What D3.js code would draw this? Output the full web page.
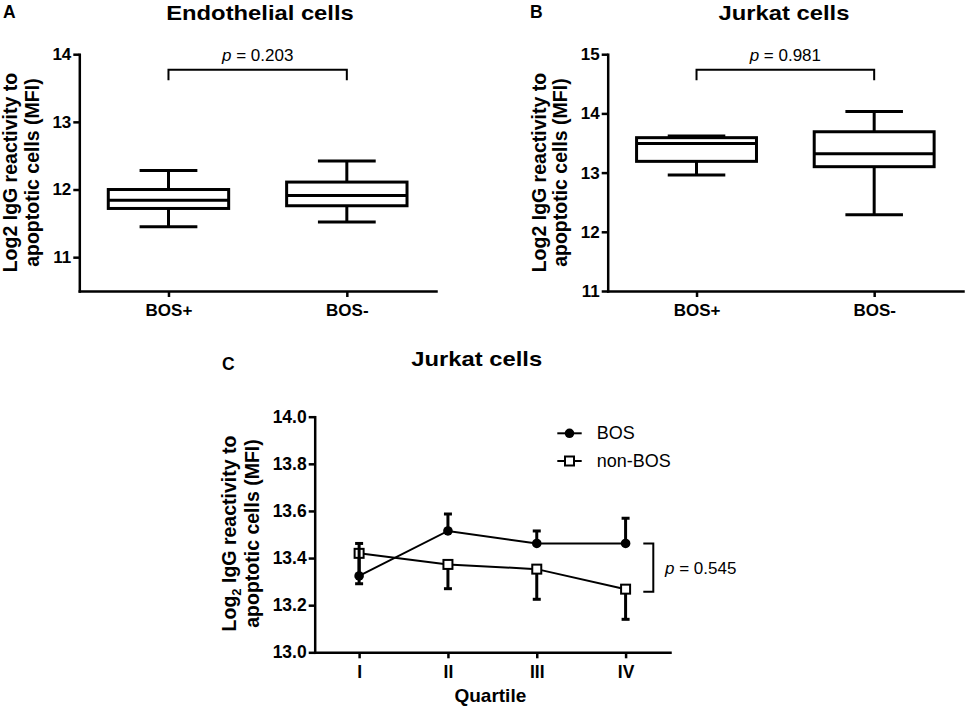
<!DOCTYPE html>
<html><head><meta charset="utf-8">
<script src="https://cdn.jsdelivr.net/npm/d3@7"></script>
<style>
body{margin:0;background:#fff}
svg{display:block}
text{font-family:"Liberation Sans",Arial,Helvetica,sans-serif;fill:#000}
</style>
</head><body>
<svg id="chart" width="965" height="708"></svg>
<script>
// ---------- DATA ----------
const groups = ["BOS+", "BOS-"];
// Panel A: Endothelial cells (box plot five-number summaries)
const endoMin = [11.45, 11.52];
const endoQ1  = [11.72, 11.76];
const endoMed = [11.84, 11.91];
const endoQ3  = [12.00, 12.11];
const endoMax = [12.28, 12.42];
const endoTicks = [11, 12, 13, 14];
const endoP = "0.203";
// Panel B: Jurkat cells
const jurMin = [12.96, 12.29];
const jurQ1  = [13.19, 13.10];
const jurMed = [13.49, 13.32];
const jurQ3  = [13.59, 13.69];
const jurMax = [13.62, 14.03];
const jurTicks = [11, 12, 13, 14, 15];
const jurP = "0.981";
// Panel C: Jurkat cells by quartile
const quartiles = ["I", "II", "III", "IV"];
const bosMean = [13.324, 13.515, 13.462, 13.462];
const bosErr  = [0.138, 0.072, 0.053, 0.107];      // drawn above
const nonBosMean = [13.420, 13.373, 13.353, 13.268];
const nonBosErr  = [0.129, 0.103, 0.128, 0.128];   // drawn below
const quartTicks = [13.0, 13.2, 13.4, 13.6, 13.8, 14.0];
const quartP = "0.545";
const seriesNames = ["BOS", "non-BOS"];

// ---------- HELPERS ----------
const FONT = '"Liberation Sans",Arial,Helvetica,sans-serif';
const svg = d3.select("#chart");

function styleAxis(g, fs) {
  g.attr("font-family", FONT);
  g.select(".domain").attr("stroke", "#000").attr("stroke-width", 2.5).attr("stroke-linecap", "square");
  g.selectAll(".tick line").attr("stroke", "#000").attr("stroke-width", 2.5);
  g.selectAll(".tick text").attr("font-size", fs).attr("font-weight", "bold").attr("fill", "#000");
}

function yLabel(x1, x2, yc, line1, line2) {
  const t1 = svg.append("text").attr("transform", `translate(${x1},${yc}) rotate(-90)`)
    .attr("text-anchor", "middle").attr("font-size", 19.5).attr("font-weight", "bold");
  line1(t1);
  svg.append("text").attr("transform", `translate(${x2},${yc}) rotate(-90)`)
    .attr("text-anchor", "middle").attr("font-size", 19.5).attr("font-weight", "bold")
    .text(line2);
}

function pText(x, y, val, anchor) {
  const t = svg.append("text").attr("x", x).attr("y", y).attr("text-anchor", anchor)
    .attr("font-size", 17);
  t.append("tspan").attr("font-style", "italic").text("p");
  t.append("tspan").text(" = " + val);
}

function title(cx, base, txt) {
  svg.append("text").attr("transform", `translate(${cx},${base}) scale(1.16,1)`)
    .attr("text-anchor", "middle").attr("font-size", 20.5).attr("font-weight", "bold").text(txt);
}

function boxPanel(cfg) {
  const x = d3.scalePoint().domain(groups).range([cfg.x0, cfg.x1]).padding(0.5);
  const y = d3.scaleLinear().domain(cfg.domain).range([cfg.yb, cfg.yt]);
  const step = x.step();
  const bw = step * 0.675, cw = bw * 0.48;

  svg.append("g").attr("transform", `translate(${cfg.x0},0)`)
    .call(d3.axisLeft(y).tickValues(cfg.ticks).tickSize(6).tickSizeOuter(0).tickPadding(2).tickFormat(d3.format("d")))
    .call(g => styleAxis(g, 17));
  svg.append("g").attr("transform", `translate(0,${cfg.yb})`)
    .call(d3.axisBottom(x).tickSize(6).tickSizeOuter(0).tickPadding(7))
    .call(g => styleAxis(g, 17));

  const g = svg.append("g").attr("fill", "none").attr("stroke", "#000").attr("stroke-width", 3);
  groups.forEach((k, i) => {
    const cx = x(k);
    g.append("line").attr("x1", cx).attr("x2", cx).attr("y1", y(cfg.max[i])).attr("y2", y(cfg.q3[i]));
    g.append("line").attr("x1", cx).attr("x2", cx).attr("y1", y(cfg.q1[i])).attr("y2", y(cfg.min[i]));
    g.append("line").attr("x1", cx - cw / 2).attr("x2", cx + cw / 2).attr("y1", y(cfg.max[i])).attr("y2", y(cfg.max[i]));
    g.append("line").attr("x1", cx - cw / 2).attr("x2", cx + cw / 2).attr("y1", y(cfg.min[i])).attr("y2", y(cfg.min[i]));
    g.append("rect").attr("x", cx - bw / 2).attr("width", bw)
      .attr("y", y(cfg.q3[i])).attr("height", y(cfg.q1[i]) - y(cfg.q3[i])).attr("fill", "#fff");
    g.append("line").attr("x1", cx - bw / 2).attr("x2", cx + bw / 2).attr("y1", y(cfg.med[i])).attr("y2", y(cfg.med[i]));
  });

  // significance bracket
  const xa = x(groups[0]), xb = x(groups[1]);
  const yTop = cfg.yb - (cfg.yb - cfg.yt) * 0.934, yDrop = yTop + 10.5;
  svg.append("path").attr("d", `M${xa},${yDrop}V${yTop}H${xb}V${yDrop}`)
    .attr("fill", "none").attr("stroke", "#000").attr("stroke-width", 2);
  pText((xa + xb) / 2, yTop - 8.5, cfg.p, "middle");

  // title & letter
  title(cfg.titleX, 19.5, cfg.title);
  svg.append("text").attr("x", cfg.letterX).attr("y", 17.5)
    .attr("font-size", 17.5).attr("font-weight", "bold").text(cfg.letter);

  yLabel(cfg.lab1, cfg.lab2, (cfg.yb + cfg.yt) / 2,
    t => t.text("Log2 IgG reactivity to"), "apoptotic cells (MFI)");
}

// ---------- PANEL A ----------
boxPanel({
  x0: 79.3, x1: 436, yb: 291, yt: 54.2, domain: [10.5, 14], ticks: endoTicks,
  min: endoMin, q1: endoQ1, med: endoMed, q3: endoQ3, max: endoMax, p: endoP,
  title: "Endothelial cells", titleX: 260, letter: "A", letterX: 3,
  lab1: 17, lab2: 38.5
});

// ---------- PANEL B ----------
boxPanel({
  x0: 607.7, x1: 963, yb: 291, yt: 54.2, domain: [11, 15], ticks: jurTicks,
  min: jurMin, q1: jurQ1, med: jurMed, q3: jurQ3, max: jurMax, p: jurP,
  title: "Jurkat cells", titleX: 784, letter: "B", letterX: 530,
  lab1: 546, lab2: 567
});

// ---------- PANEL C ----------
(function () {
  const x0 = 314.7, x1 = 670, yb = 652.3, yt = 416.7;
  const x = d3.scalePoint().domain(quartiles).range([x0, x1]).padding(0.5);
  const y = d3.scaleLinear().domain([13, 14]).range([yb, yt]);

  svg.append("g").attr("transform", `translate(${x0},0)`)
    .call(d3.axisLeft(y).tickValues(quartTicks).tickSize(6).tickSizeOuter(0).tickPadding(2).tickFormat(d3.format(".1f")))
    .call(g => styleAxis(g, 17.5));
  svg.append("g").attr("transform", `translate(0,${yb})`)
    .call(d3.axisBottom(x).tickSize(6).tickSizeOuter(0).tickPadding(7.5))
    .call(g => styleAxis(g, 17.5));

  const line = d3.line().x((d, i) => x(quartiles[i])).y(d => y(d));
  const capW = 8;

  function series(means, errs, dir, marker) {
    const g = svg.append("g");
    means.forEach((m, i) => {
      const cx = x(quartiles[i]), ye = y(m + dir * errs[i]);
      g.append("line").attr("x1", cx).attr("x2", cx).attr("y1", y(m)).attr("y2", ye)
        .attr("stroke", "#000").attr("stroke-width", 3);
      g.append("line").attr("x1", cx - capW / 2).attr("x2", cx + capW / 2).attr("y1", ye).attr("y2", ye)
        .attr("stroke", "#000").attr("stroke-width", 3);
    });
    g.append("path").attr("d", line(means)).attr("fill", "none").attr("stroke", "#000").attr("stroke-width", 2);
    means.forEach((m, i) => marker(g, x(quartiles[i]), y(m)));
  }
  const square = (g, cx, cy) => g.append("rect").attr("x", cx - 4.5).attr("y", cy - 4.5)
    .attr("width", 9).attr("height", 9).attr("fill", "#fff").attr("stroke", "#000").attr("stroke-width", 2);
  const circle = (g, cx, cy) => g.append("circle").attr("cx", cx).attr("cy", cy).attr("r", 4.8).attr("fill", "#000");

  series(nonBosMean, nonBosErr, -1, square);
  series(bosMean, bosErr, 1, circle);

  // bracket between last points
  const yA = y(bosMean[3]), yB = y(nonBosMean[3]) + 2.5;
  svg.append("path").attr("d", `M643.3,${yA}H653.3V${yB}H643.3`)
    .attr("fill", "none").attr("stroke", "#000").attr("stroke-width", 2);
  pText(665, (yA + yB) / 2 + 6, quartP, "start");

  // legend
  const leg = svg.append("g");
  [[433.3, circle], [461, square]].forEach(([ly, mk], i) => {
    leg.append("line").attr("x1", 557.3).attr("x2", 581.7).attr("y1", ly).attr("y2", ly)
      .attr("stroke", "#000").attr("stroke-width", 2);
    mk(leg, 569.5, ly);
    leg.append("text").attr("x", 596.7).attr("y", ly + 6).attr("font-size", 18).text(seriesNames[i]);
  });

  // titles & labels
  title(476.7, 366, "Jurkat cells");
  svg.append("text").attr("x", 222).attr("y", 370).attr("font-size", 17.5).attr("font-weight", "bold").text("C");
  svg.append("text").attr("x", (x0 + x1) / 2 - 2).attr("y", 702).attr("text-anchor", "middle")
    .attr("font-size", 19).attr("font-weight", "bold").text("Quartile");

  yLabel(236, 259, (yb + yt) / 2 - 1, t => {
    t.append("tspan").text("Log");
    t.append("tspan").attr("font-size", 13).attr("dy", 5).text("2");
    t.append("tspan").attr("dy", -5).text(" IgG reactivity to");
  }, "apoptotic cells (MFI)");
})();
</script>
</body></html>
